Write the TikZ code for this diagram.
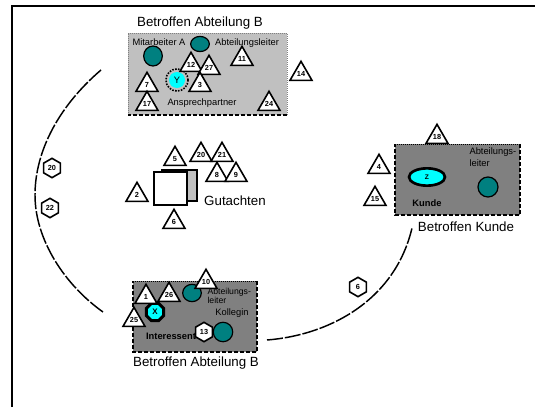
\documentclass[tikz,border=0pt]{standalone}
\usepackage{fontspec}
\setmainfont{Liberation Sans}
\usetikzlibrary{shapes.geometric}
\definecolor{boxLight}{RGB}{192,192,192}
\definecolor{boxDark}{RGB}{128,128,128}
\definecolor{personTeal}{RGB}{0,128,128}
\definecolor{roleCyan}{RGB}{0,255,255}
\begin{document}
\begin{tikzpicture}[x=0.75pt, y=-0.75pt, thick,
    num/.style={regular polygon, regular polygon sides=3, draw, fill=white, line width=1.2pt,
        inner sep=0pt, minimum size=19pt, font=\fontsize{5.5}{5.5}\selectfont\bfseries},
    hexa/.style={regular polygon, regular polygon sides=6, shape border rotate=30, draw, fill=white,
        line width=1.2pt, inner sep=0pt, minimum size=14.5pt, font=\fontsize{5.5}{5.5}\selectfont\bfseries},
    bigtext/.style={font=\fontsize{10}{12}\selectfont, inner sep=0pt},
    smalltext/.style={font=\fontsize{7}{9}\selectfont, inner sep=0pt},
    person/.style={fill=personTeal, draw=black, line width=0.9pt},
    rim/.style={line width=0.5pt, densely dotted},
    edgedash/.style={line width=1.3pt, dash pattern=on 3pt off 1.5pt},
    arcline/.style={line width=1.1pt, dash pattern=on 12pt off 1.5pt}]
    \useasboundingbox (0,0) rectangle (535,407);
    \coordinate (A1) at (128,33);
    \coordinate (A2) at (287,115);
    \coordinate (K1) at (395,144);
    \coordinate (K2) at (520,215);
    \coordinate (B1) at (133,281);
    \coordinate (B2) at (257,352);
    \coordinate (L1) at (101,70);
    \coordinate (L2) at (35,195);
    \coordinate (L3) at (103,312);
    \coordinate (R1) at (267,340);
    \coordinate (R2) at (412,228);
    \draw[line width=1.4pt] (12,407) -- (12,6) -- (535,6);
    \fill[boxLight] (A1) rectangle (A2);
    \draw[rim, gray] (A1 |- A2) -- (A1) -- (A1 -| A2) -- (A2);
    \draw[edgedash] (A2) -- (A1 |- A2);
    \fill[boxDark] (K1) rectangle (K2);
    \draw[rim] (K1) -- (K1 -| K2);
    \draw[edgedash] (K1 -| K2) -- (K2) -- (K1 |- K2) -- (K1);
    \fill[boxDark] (B1) rectangle (B2);
    \draw[rim] (B1) -- (B1 -| B2);
    \draw[edgedash] (B1 -| B2) -- (B2) -- (B1 |- B2) -- (B1);
    \draw[arcline] (L1) .. controls (60,105) and (35,150) .. (L2)
        .. controls (35,240) and (65,285) .. (L3);
    \draw[arcline] (R1) .. controls (330,335) and (395,300) .. (R2);
    \node[bigtext] (titleA) at (200,23) {Betroffen Abteilung B};
    \node[smalltext] (mitA) at (159,42) {Mitarbeiter A};
    \node[smalltext] (leitA) at (247,43) {Abteilungsleiter};
    \node[smalltext] (partA) at (202,103) {Ansprechpartner};
    \draw[person] (153,56) ellipse (7pt and 7.5pt);
    \draw[person] (200,44) ellipse (7pt and 5.7pt);
    \node[circle, fill=roleCyan, inner sep=0pt, minimum size=12pt,
        font=\fontsize{7}{7}\selectfont] (Y) at (177,80) {Y};
    \draw[densely dotted, line width=1.2pt] (Y) circle (8.3pt);
    \draw[fill=boxLight, line width=0.9pt] (162,170) rectangle (197,201);
    \draw[fill=white, line width=0.9pt] (154,172) rectangle (187,205);
    \node[bigtext] (gut) at (235,201) {Gutachten};
    \node[smalltext, align=left, anchor=west] (leitK) at (469,157) {Abteilungs-\\leiter};
    \draw[person] (488,187) circle (7.5pt);
    \node[ellipse, fill=roleCyan, draw, line width=2pt, inner sep=0pt, minimum width=27pt,
        minimum height=13pt, font=\fontsize{5}{5}\selectfont\bfseries] (Z) at (427,177) {Z};
    \node[smalltext, font=\fontsize{7}{9}\selectfont\bfseries] (kunde) at (427,203) {Kunde};
    \node[bigtext] (titleK) at (466,227) {Betroffen Kunde};
    \node[smalltext, align=left, anchor=west, font=\fontsize{6.5}{7}\selectfont] (leitB) at (207,296) {Abteilungs-\\leiter};
    \draw[person] (192,293) ellipse (7pt and 6.5pt);
    \node[smalltext] (koll) at (232,313) {Kollegin};
    \node[smalltext, font=\fontsize{7}{9}\selectfont\bfseries] (inter) at (171,336) {Interessent};
    \node[regular polygon, regular polygon sides=8, fill=roleCyan, draw, line width=2.2pt,
        inner sep=0pt, minimum size=14pt, font=\fontsize{6}{6}\selectfont\bfseries] (X) at (155,312) {X};
    \node[bigtext] (titleB) at (196,363) {Betroffen Abteilung B};
    \node[hexa] (hex13) at (204,332) {13};
    \draw[person] (223,332) circle (7.3pt);
    \node[hexa] (hex20) at (52,168) {20};
    \node[hexa] (hex22) at (50,208) {22};
    \node[hexa] (hex6) at (358,287) {6};
    \node[num] (t11) at (242,59) {11};
    \node[num] (t12) at (191,65) {12};
    \node[num] (t27) at (209,68) {27};
    \node[num] (t14) at (301,74) {14};
    \node[num] (t7) at (147,85) {7};
    \node[num] (t3) at (200,85) {3};
    \node[num] (t17) at (147,104) {17};
    \node[num] (t24) at (269,104) {24};
    \node[num] (t5) at (175,159) {5};
    \node[num] (t20) at (201,155) {20};
    \node[num] (t21) at (222,155) {21};
    \node[num] (t8) at (217,175) {8};
    \node[num] (t9) at (236,175) {9};
    \node[num] (t2) at (137,195) {2};
    \node[num] (t6) at (174,222) {6};
    \node[num] (t18) at (437,137) {18};
    \node[num] (t4) at (379,167) {4};
    \node[num] (t15) at (375,199) {15};
    \node[num] (t1) at (146,297) {1};
    \node[num] (t26) at (169,295) {26};
    \node[num] (t10) at (206,282) {10};
    \node[num] (t25) at (134,320) {25};
\end{tikzpicture}
\end{document}
